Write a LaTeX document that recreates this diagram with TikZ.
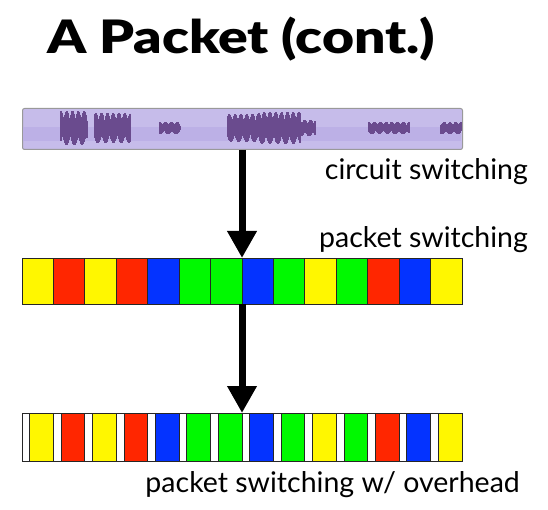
\documentclass[tikz,border=0pt]{standalone}
\usepackage{fontspec}
\setmainfont{Lato}
\newfontfamily\titlefont{Lato Black}
\usetikzlibrary{positioning,arrows.meta}

\definecolor{pktyellow}{HTML}{FFF700}
\definecolor{pktred}{HTML}{FF2600}
\definecolor{pktblue}{HTML}{0433FF}
\definecolor{pktgreen}{HTML}{00F900}
\definecolor{stripbg}{HTML}{C6BCEA}
\definecolor{stripband}{HTML}{BCB0E6}
\definecolor{wave}{HTML}{6A4B8E}

\tikzset{
  cell/.style={draw=black!85, line width=0.8pt, minimum width=31.43pt,
    minimum height=46pt, inner sep=0pt, outer sep=0pt, anchor=north west},
  hcell/.style={draw=black!85, line width=0.8pt, minimum height=48pt,
    inner sep=0pt, outer sep=0pt, anchor=north west},
  bigarrow/.style={line width=7pt, -{Triangle[width=28pt,length=27pt]}},
  caption/.style={font=\fontsize{28.5}{32}\selectfont, inner sep=0pt, anchor=east}
}

\begin{document}
\begin{tikzpicture}[x=1pt,y=-1pt]
  \useasboundingbox (0,0) rectangle (548,510);

  % title
  \node[font=\titlefont\fontsize{46}{50}\selectfont, inner sep=0pt, anchor=west]
    (title) at (47,39) {\scalebox{1.2}[1]{A Packet (cont.)}};

  % audio strip
  \node[draw=black!40, line width=1pt, fill=stripbg, rounded corners=2pt,
    minimum width=440pt, minimum height=41pt, inner sep=0pt, anchor=north west]
    (audio) at (22,108) {};
  \fill[stripband] (23,127) rectangle (461,141);

  % waveform blobs: start/end/amplitude
  \foreach \s/\e/\a in {61/87/17, 95/130/15, 160/180/6, 228/258/14,
                         259/300/16, 301/315/8, 369/409/6, 441/461/6}
    \foreach \x in {\s,...,\e}
      \draw[wave, line width=1.2pt]
        (\x,{128-\a*(0.4+0.6*abs(sin(\x*31)))}) --
        (\x,{128+\a*(0.4+0.6*abs(sin(\x*23)))});
  \fill[wave] (61,124) rectangle (87,133);
  \fill[wave] (95,124) rectangle (130,133);
  \fill[wave] (160,125) rectangle (180,131);
  \fill[wave] (228,124) rectangle (315,132);
  \fill[wave] (369,125) rectangle (409,131);
  \fill[wave] (441,125) rectangle (461,131);

  % packet switching row
  \foreach \i/\c in {1/pktyellow, 2/pktred, 3/pktyellow, 4/pktred, 5/pktblue,
                     6/pktgreen, 7/pktgreen, 8/pktblue, 9/pktgreen, 10/pktyellow,
                     11/pktgreen, 12/pktred, 13/pktblue, 14/pktyellow}
    \node[cell, fill=\c] (p\i) at ({22+(\i-1)*31.43},258) {};

  % packet switching with overhead row
  \foreach \i/\c in {1/pktyellow, 2/pktred, 3/pktyellow, 4/pktred, 5/pktblue,
                     6/pktgreen, 7/pktgreen, 8/pktblue, 9/pktgreen, 10/pktyellow,
                     11/pktgreen, 12/pktred, 13/pktblue, 14/pktyellow}
  {
    \node[hcell, fill=white, minimum width=7.7pt] (h\i) at ({22+(\i-1)*31.43},413) {};
    \node[hcell, fill=\c, minimum width=23.73pt] (q\i) at (h\i.north east) {};
  }

  % arrows
  \coordinate (top1) at (audio.south -| p8.north west);
  \coordinate (bot2) at (h8.north -| p8.south west);
  \draw[bigarrow] (top1) -- (p8.north west);
  \draw[bigarrow] (p8.south west) -- (bot2);

  % labels
  \node[caption] (lcircuit) at (528,172) {circuit switching};
  \node[caption] (lpacket) at (528,240) {packet switching};
  \node[caption] (loverhead) at (520,485) {packet switching w/ overhead};
\end{tikzpicture}
\end{document}
